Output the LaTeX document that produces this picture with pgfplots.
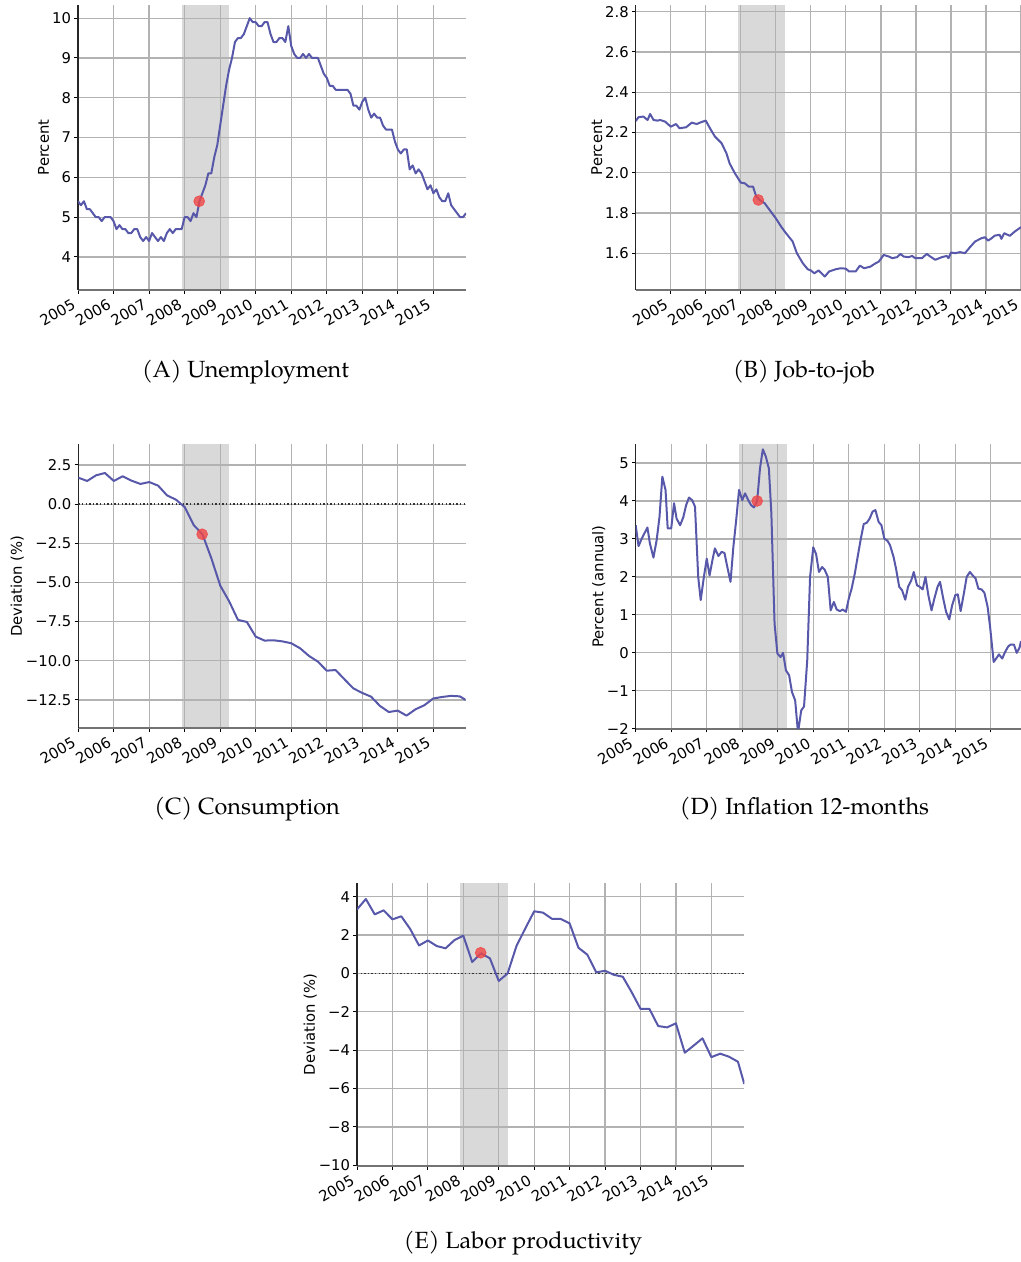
\documentclass[border=0pt]{standalone}
\usepackage{fontspec}
\setmainfont{TeX Gyre Pagella}
\newfontfamily\dejavu{DejaVu Sans}
\usepackage{pgfplots}
\pgfplotsset{compat=1.18}
\definecolor{linec}{RGB}{88,88,170}
\definecolor{shadec}{RGB}{217,217,217}
\definecolor{gridc}{RGB}{178,178,178}
\definecolor{dotc}{RGB}{240,70,70}
\pgfplotsset{
  panel/.style={
    set layers,
    anchor=south west,
    scale only axis,
    axis x line*=bottom, axis y line*=left,
    axis line style={-, black!85, line width=0.6pt},
    x axis line style={black!55, line width=1.1pt},
    grid=major,
    grid style={color=gridc, line width=0.6pt},
    tick align=outside,
    major tick length=1.8pt,
    tick style={black, line width=0.5pt},
    /pgf/number format/assume math mode=true,
    ticklabel style={font=\dejavu\fontsize{7.4}{8.5}\selectfont},
    label style={font=\dejavu\fontsize{7.4}{8.5}\selectfont},
    xtick={2005,2006,2007,2008,2009,2010,2011,2012,2013,2014,2015},
    xticklabels={2005,2006,2007,2008,2009,2010,2011,2012,2013,2014,2015},
    xticklabel style={rotate=30, anchor=north east, inner sep=1.5pt, xshift=-2.5pt, yshift=1.5pt},
    yticklabel style={inner sep=1.5pt},
    clip=true,
  },
  ylab/.style={ylabel style={at={(axis description cs:#1,0.5)}, anchor=center}},
  series/.style={linec, line width=1pt, line join=round},
  shade/.style={fill=shadec, draw=none, on layer=axis background},
  reddot/.style={only marks, mark=*, mark size=2.7pt, color=dotc, opacity=0.8},
  zeroline/.style={black!80, line width=0.8pt, dash pattern=on 0.7pt off 1.1pt},
}
\begin{document}
\begin{tikzpicture}

% ---------------- (A) Unemployment
\begin{axis}[panel, at={(39pt,-145pt)}, width=194pt, height=142.5pt,
  xmin=2005, xmax=2015.917, ymin=3.17, ymax=10.33,
  ytick={4,5,6,7,8,9,10}, yticklabels={4,5,6,7,8,9,10},
  ylabel={Percent}, ylab=-0.0884]
\addplot[shade] coordinates {(2007.917,3.17) (2009.25,3.17) (2009.25,10.33) (2007.917,10.33)};
\addplot[series] table {
2005.000 5.4
2005.083 5.3
2005.167 5.4
2005.250 5.2
2005.333 5.2
2005.417 5.1
2005.500 5.0
2005.583 5.0
2005.667 4.9
2005.750 5.0
2005.833 5.0
2005.917 5.0
2006.000 4.9
2006.083 4.7
2006.167 4.8
2006.250 4.7
2006.333 4.7
2006.417 4.6
2006.500 4.6
2006.583 4.7
2006.667 4.7
2006.750 4.5
2006.833 4.4
2006.917 4.5
2007.000 4.4
2007.083 4.6
2007.167 4.5
2007.250 4.4
2007.333 4.5
2007.417 4.4
2007.500 4.6
2007.583 4.7
2007.667 4.6
2007.750 4.7
2007.833 4.7
2007.917 4.7
2008.000 5.0
2008.083 5.0
2008.167 4.9
2008.250 5.1
2008.333 5.0
2008.417 5.4
2008.500 5.6
2008.583 5.8
2008.667 6.1
2008.750 6.1
2008.833 6.5
2008.917 6.8
2009.000 7.3
2009.083 7.8
2009.167 8.3
2009.250 8.7
2009.333 9.0
2009.417 9.4
2009.500 9.5
2009.583 9.5
2009.667 9.6
2009.750 9.8
2009.833 10.0
2009.917 9.9
2010.000 9.9
2010.083 9.8
2010.167 9.8
2010.250 9.9
2010.333 9.9
2010.417 9.6
2010.500 9.4
2010.583 9.4
2010.667 9.5
2010.750 9.5
2010.833 9.4
2010.917 9.8
2011.000 9.3
2011.083 9.1
2011.167 9.0
2011.250 9.0
2011.333 9.1
2011.417 9.0
2011.500 9.1
2011.583 9.0
2011.667 9.0
2011.750 9.0
2011.833 8.8
2011.917 8.6
2012.000 8.5
2012.083 8.3
2012.167 8.3
2012.250 8.2
2012.333 8.2
2012.417 8.2
2012.500 8.2
2012.583 8.2
2012.667 8.1
2012.750 7.8
2012.833 7.8
2012.917 7.7
2013.000 7.9
2013.083 8.0
2013.167 7.7
2013.250 7.5
2013.333 7.6
2013.417 7.5
2013.500 7.5
2013.583 7.3
2013.667 7.2
2013.750 7.2
2013.833 7.2
2013.917 6.9
2014.000 6.7
2014.083 6.6
2014.167 6.7
2014.250 6.7
2014.333 6.2
2014.417 6.3
2014.500 6.1
2014.583 6.2
2014.667 6.1
2014.750 5.9
2014.833 5.7
2014.917 5.8
2015.000 5.6
2015.083 5.7
2015.167 5.5
2015.250 5.4
2015.333 5.4
2015.417 5.6
2015.500 5.3
2015.583 5.2
2015.667 5.1
2015.750 5.0
2015.833 5.0
2015.917 5.1
};
\addplot[reddot] coordinates {(2008.41,5.4)};
\end{axis}

% ---------------- (B) Job-to-job
\begin{axis}[panel, at={(317.85pt,-145pt)}, width=192.65pt, height=142.5pt,
  xmin=2004, xmax=2015, ymin=1.418, ymax=2.833,
  ytick={1.6,1.8,2.0,2.2,2.4,2.6,2.8}, yticklabels={1.6,1.8,2.0,2.2,2.4,2.6,2.8},
  ylabel={Percent}, ylab=-0.101]
\addplot[shade] coordinates {(2006.92,1.418) (2008.26,1.418) (2008.26,2.833) (2006.92,2.833)};
\addplot[series] table {
2004.00 2.257
2004.08 2.276
2004.22 2.279
2004.34 2.262
2004.41 2.292
2004.51 2.262
2004.62 2.259
2004.70 2.262
2004.84 2.254
2005.00 2.229
2005.15 2.242
2005.25 2.221
2005.44 2.226
2005.60 2.249
2005.74 2.242
2005.88 2.252
2006.00 2.259
2006.12 2.221
2006.26 2.180
2006.45 2.147
2006.59 2.097
2006.68 2.047
2006.83 1.998
2007.00 1.951
2007.11 1.948
2007.23 1.931
2007.35 1.931
2007.44 1.882
2007.54 1.865
2007.68 1.849
2007.82 1.816
2008.00 1.774
2008.15 1.733
2008.29 1.700
2008.48 1.659
2008.60 1.601
2008.77 1.551
2008.91 1.521
2009.00 1.515
2009.10 1.501
2009.22 1.515
2009.40 1.485
2009.52 1.510
2009.71 1.521
2009.85 1.526
2010.00 1.524
2010.09 1.510
2010.28 1.510
2010.40 1.539
2010.52 1.526
2010.70 1.534
2010.85 1.551
2010.94 1.559
2011.08 1.592
2011.23 1.584
2011.32 1.576
2011.46 1.581
2011.56 1.597
2011.65 1.584
2011.79 1.581
2011.89 1.587
2011.98 1.576
2012.17 1.576
2012.31 1.597
2012.41 1.584
2012.55 1.568
2012.74 1.581
2012.88 1.587
2012.93 1.576
2013.00 1.604
2013.12 1.601
2013.26 1.606
2013.40 1.601
2013.54 1.630
2013.69 1.659
2013.87 1.675
2013.97 1.680
2014.06 1.663
2014.16 1.675
2014.25 1.688
2014.39 1.692
2014.44 1.672
2014.52 1.700
2014.68 1.687
2014.82 1.708
2015.00 1.730
};
\addplot[reddot] coordinates {(2007.50,1.865)};
\end{axis}

% ---------------- (C) Consumption
\begin{axis}[panel, at={(39.15pt,-364.15pt)}, width=193.7pt, height=142.15pt,
  xmin=2005, xmax=2015.917, ymin=-14.31, ymax=3.84,
  ytick={-12.5,-10,-7.5,-5,-2.5,0,2.5},
  yticklabels={−12.5,−10.0,−7.5,−5.0,−2.5,0.0,2.5},
  ylabel={Deviation (\%)}, ylab=-0.1575]
\addplot[shade] coordinates {(2007.917,-14.31) (2009.25,-14.31) (2009.25,3.84) (2007.917,3.84)};
\addplot[zeroline] coordinates {(2005,0) (2015.917,0)};
\addplot[series] table {
2005.00 1.69
2005.25 1.48
2005.50 1.84
2005.75 1.99
2006.00 1.48
2006.25 1.78
2006.50 1.50
2006.75 1.29
2007.00 1.41
2007.25 1.18
2007.50 0.56
2007.75 0.29
2008.00 -0.19
2008.25 -1.33
2008.50 -1.93
2008.75 -3.46
2009.00 -5.20
2009.25 -6.20
2009.50 -7.39
2009.75 -7.52
2010.00 -8.46
2010.25 -8.71
2010.50 -8.69
2010.75 -8.76
2011.00 -8.88
2011.25 -9.20
2011.50 -9.69
2011.75 -10.05
2012.00 -10.63
2012.25 -10.59
2012.50 -11.18
2012.75 -11.76
2013.00 -12.05
2013.25 -12.29
2013.50 -12.88
2013.75 -13.27
2014.00 -13.18
2014.25 -13.50
2014.50 -13.10
2014.75 -12.84
2015.00 -12.41
2015.25 -12.31
2015.50 -12.24
2015.75 -12.27
2015.917 -12.50
};
\addplot[reddot] coordinates {(2008.49,-1.92)};
\end{axis}

% ---------------- (D) Inflation
\begin{axis}[panel, at={(317.85pt,-364.4pt)}, width=192.65pt, height=142.4pt,
  xmin=2005, xmax=2015.85, ymin=-2, ymax=5.5,
  ytick={-2,-1,0,1,2,3,4,5}, yticklabels={−2,−1,0,1,2,3,4,5},
  ylabel={Percent (annual)}, ylab=-0.0958]
\addplot[shade] coordinates {(2007.91,-2) (2009.26,-2) (2009.26,5.5) (2007.91,5.5)};
\addplot[series] table {
2005.00 3.36
2005.08 2.81
2005.17 3.01
2005.33 3.30
2005.40 2.88
2005.50 2.51
2005.59 2.97
2005.67 3.58
2005.75 4.64
2005.84 4.29
2005.90 3.28
2006.00 3.28
2006.08 3.94
2006.15 3.54
2006.25 3.36
2006.34 3.57
2006.42 3.89
2006.50 4.09
2006.59 4.02
2006.67 3.85
2006.76 2.00
2006.83 1.39
2006.92 2.00
2007.00 2.48
2007.08 2.04
2007.16 2.44
2007.23 2.75
2007.33 2.55
2007.42 2.66
2007.50 2.63
2007.58 2.26
2007.67 1.87
2007.75 2.79
2007.83 3.50
2007.91 4.29
2008.00 4.02
2008.08 4.20
2008.17 4.02
2008.25 3.89
2008.33 3.83
2008.42 4.00
2008.50 4.86
2008.58 5.36
2008.66 5.18
2008.75 4.86
2008.82 3.67
2008.91 0.77
2008.99 -0.02
2009.08 -0.11
2009.15 0.00
2009.23 -0.46
2009.32 -0.59
2009.40 -1.03
2009.49 -1.25
2009.57 -2.10
2009.66 -1.52
2009.74 -1.41
2009.83 -0.20
2009.91 2.00
2010.00 2.78
2010.08 2.60
2010.16 2.13
2010.25 2.26
2010.32 2.19
2010.41 2.00
2010.49 1.12
2010.58 1.34
2010.66 1.14
2010.75 1.10
2010.83 1.14
2010.92 1.08
2011.00 1.43
2011.08 1.69
2011.17 2.09
2011.25 2.53
2011.34 3.01
2011.42 3.39
2011.51 3.43
2011.59 3.54
2011.67 3.72
2011.75 3.76
2011.84 3.45
2011.92 3.36
2012.00 3.01
2012.09 2.95
2012.16 2.84
2012.26 2.53
2012.33 2.22
2012.42 1.74
2012.50 1.65
2012.59 1.40
2012.67 1.74
2012.76 1.91
2012.83 2.13
2012.92 1.78
2013.00 1.74
2013.08 1.67
2013.16 2.00
2013.24 1.52
2013.33 1.12
2013.41 1.43
2013.50 1.74
2013.57 1.87
2013.66 1.43
2013.74 1.08
2013.83 0.88
2013.91 1.25
2014.00 1.52
2014.07 1.54
2014.15 1.10
2014.24 1.56
2014.32 2.00
2014.41 2.13
2014.49 2.04
2014.57 1.96
2014.65 1.69
2014.74 1.67
2014.82 1.58
2014.91 1.21
2014.98 0.68
2015.08 -0.24
2015.15 -0.15
2015.23 -0.04
2015.32 -0.15
2015.40 0.02
2015.49 0.17
2015.56 0.22
2015.65 0.22
2015.73 0.00
2015.81 0.14
2015.85 0.31
};
\addplot[reddot] coordinates {(2008.42,4.0)};
\end{axis}

% ---------------- (E) Labor productivity
\begin{axis}[panel, at={(178.5pt,-583.15pt)}, width=193.65pt, height=141.8pt,
  xmin=2005, xmax=2015.93, ymin=-10.05, ymax=4.73,
  ytick={-10,-8,-6,-4,-2,0,2,4}, yticklabels={−10,−8,−6,−4,−2,0,2,4},
  ylabel={Deviation (\%)}, ylab=-0.1206]
\addplot[shade] coordinates {(2007.92,-10.05) (2009.26,-10.05) (2009.26,4.73) (2007.92,4.73)};
\addplot[zeroline] coordinates {(2005,0) (2015.93,0)};
\addplot[series] table {
2005.00 3.34
2005.25 3.88
2005.50 3.08
2005.75 3.29
2006.00 2.82
2006.25 2.98
2006.50 2.32
2006.75 1.46
2007.00 1.72
2007.25 1.43
2007.50 1.31
2007.75 1.74
2008.00 1.97
2008.25 0.60
2008.50 1.05
2008.75 0.79
2009.00 -0.39
2009.25 0.00
2009.50 1.43
2009.75 2.35
2010.00 3.24
2010.25 3.17
2010.50 2.85
2010.75 2.84
2011.00 2.61
2011.25 1.34
2011.50 0.98
2011.75 0.06
2012.00 0.14
2012.25 -0.07
2012.50 -0.17
2012.75 -0.97
2013.00 -1.84
2013.25 -1.84
2013.50 -2.74
2013.75 -2.81
2014.00 -2.60
2014.25 -4.13
2014.50 -3.76
2014.75 -3.38
2015.00 -4.36
2015.25 -4.18
2015.50 -4.34
2015.75 -4.60
2015.93 -5.76
};
\addplot[reddot] coordinates {(2008.49,1.08)};
\end{axis}

% ---------------- captions
\begin{scope}[every node/.style={anchor=base, inner sep=0pt, font=\fontsize{11.7}{13.5}\selectfont}]
\node at (122.75pt,-188.65pt) {(A) Unemployment};
\node at (402pt,-188.65pt) {(B) Job-to-job};
\node at (123.5pt,-407.3pt) {(C) Consumption};
\node at (402.25pt,-407.3pt) {(D) Inflation 12-months};
\node at (261.5pt,-624pt) {(E) Labor productivity};
\end{scope}
\pgfresetboundingbox
\useasboundingbox (0pt,0pt) rectangle (510.5pt,-631pt);
\end{tikzpicture}
\end{document}
